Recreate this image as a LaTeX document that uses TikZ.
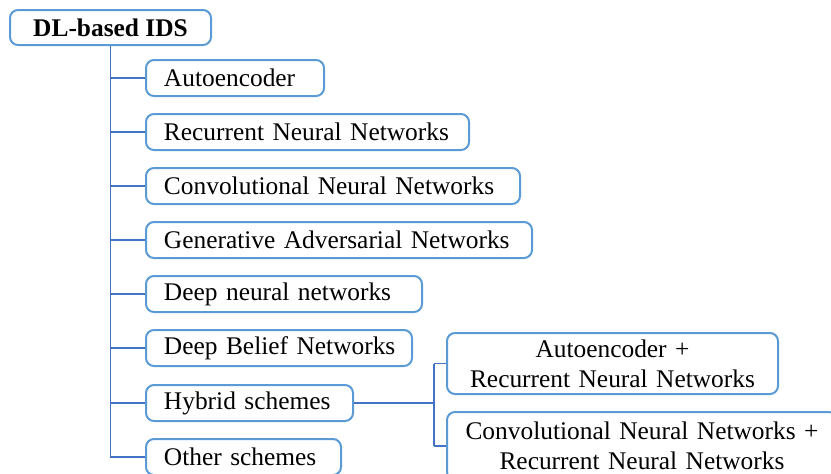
\documentclass[tikz,border=0pt]{standalone}
\usepackage{fontspec}
\setmainfont{Liberation Serif}
\definecolor{boxblue}{RGB}{91,155,213}
\definecolor{lineblue}{RGB}{68,114,196}
\tikzset{
	leaf/.style={draw=boxblue, line width=1pt, rounded corners=4pt, anchor=west,
		minimum height=18pt, inner xsep=0pt, inner ysep=0pt, align=left, text width=#1,
		execute at begin node={\hspace*{9pt}}},
	combo/.style={draw=boxblue, line width=1pt, rounded corners=4pt, anchor=west,
		inner sep=0pt, align=center, text width=#1},
	link/.style={draw=lineblue, line width=0.6pt}
}
\begin{document}
\begin{tikzpicture}[x=0.5pt,y=-0.5pt,font=\fontsize{12.7}{15}\selectfont]
			\useasboundingbox (0,0) rectangle (831,473);
			\node[draw=boxblue,line width=1pt,rounded corners=4pt,minimum width=100.5pt,minimum height=17.5pt,inner sep=0pt] (root) at (110.5,27.5) {\textbf{DL-based IDS}};
			\node[leaf=89pt] (ae) at (145,78) {Autoencoder};
			\node[leaf=161.5pt] (rnn) at (145,132) {Recurrent Neural Networks};
			\node[leaf=187pt] (cnn) at (145,186) {Convolutional Neural Networks};
			\node[leaf=193pt] (gan) at (145,240) {Generative Adversarial Networks};
			\node[leaf=138pt] (dnn) at (145,294) {Deep neural networks};
			\node[leaf=133pt] (dbn) at (145,348) {Deep Belief Networks};
			\node[leaf=103.5pt] (hyb) at (145,403) {Hybrid schemes};
			\node[leaf=97.5pt] (oth) at (145,457) {Other schemes};
			\node[combo=165.5pt,minimum height=30.5pt] (aernn) at (446,363.5) {Autoencoder +\\ Recurrent Neural Networks};
			\node[combo=195pt,minimum height=34pt] (cnnrnn) at (446,446) {Convolutional Neural Networks +\\ Recurrent Neural Networks};
			% tree trunk
			\draw[link] (root.south) |- (oth.west);
			\foreach \n in {ae,rnn,cnn,gan,dnn,dbn,hyb}
				\draw[link] (root.south |- \n.west) -- (\n.west);
			% hybrid branch
			\draw[link] (hyb.east) -- ++(80,0) coordinate (hj);
			\draw[link] (hj |- aernn.west) -- (aernn.west);
			\draw[link] (hj |- cnnrnn.west) -- (cnnrnn.west);
			\draw[link] (hj |- aernn.west) -- (hj |- cnnrnn.west);
		\end{tikzpicture}
\end{document}
